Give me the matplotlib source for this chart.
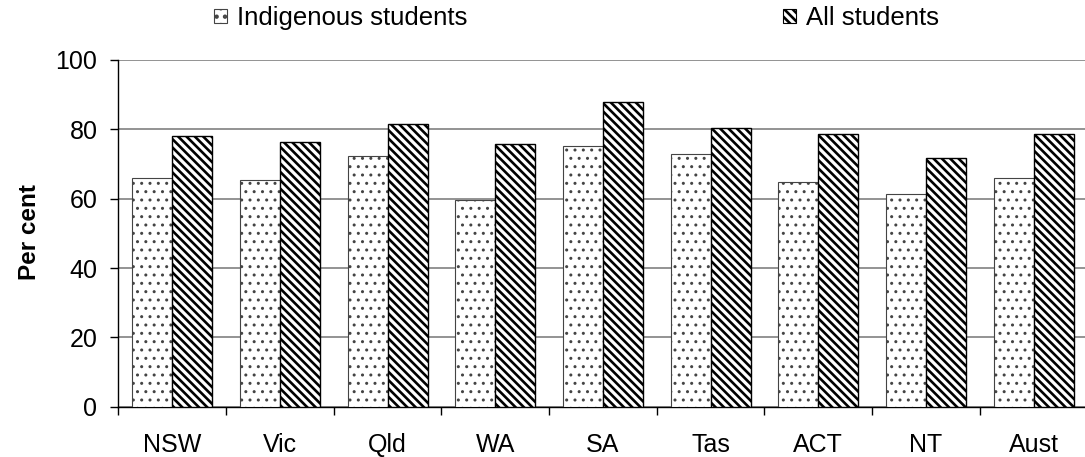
import numpy as np
import matplotlib
matplotlib.use('Agg')
import matplotlib.pyplot as plt
from matplotlib.patches import Patch

# states / territories
states = ['NSW', 'Vic', 'Qld', 'WA', 'SA', 'Tas', 'ACT', 'NT', 'Aust']
# per cent of students
indigenous = [66.0, 65.5, 72.4, 59.6, 75.2, 72.9, 64.7, 61.4, 66.0]
all_students = [78.1, 76.3, 81.6, 75.7, 88.0, 80.3, 78.6, 71.7, 78.6]
yticks = [0, 20, 40, 60, 80, 100]

plt.rcParams['font.family'] = ['Liberation Sans', 'DejaVu Sans']
plt.rcParams['font.size'] = 18
plt.rcParams['hatch.linewidth'] = 1.9

W, H = 1085, 457
fig = plt.figure(figsize=(W / 100, H / 100), dpi=100)
ax = fig.add_axes([118.3 / W, 1 - 406.7 / H, 969.3 / W, 346.7 / H])

x = np.arange(len(states))
bw = 0.371
DOTS = '..'
STRIPES = '\\\\\\\\'

b1 = ax.bar(x - bw / 2, indigenous, bw, color='white', edgecolor='#444444',
            linewidth=0.8, hatch=DOTS, label='Indigenous students', zorder=3)
b2 = ax.bar(x + bw / 2, all_students, bw, color='white', edgecolor='black',
            linewidth=1.0, hatch=STRIPES, label='All students', zorder=3)
for p in b1:
    if hasattr(p, 'set_hatch_linewidth'):
        p.set_hatch_linewidth(1.0)

ax.set_xlim(-0.5, len(states) - 0.5)
ax.set_ylim(0, 100)
ax.set_yticks(yticks)
ax.yaxis.grid(True, color='#808080', linewidth=1.2, zorder=0)
ax.set_axisbelow(True)

# labels at centres, tick marks at category boundaries
ax.set_xticks(x)
ax.set_xticklabels(states)
ax.set_xticks(np.arange(len(states) + 1) - 0.5, minor=True)
ax.tick_params(axis='x', which='major', length=0, pad=19)
ax.tick_params(axis='x', which='minor', length=6, width=1, direction='out')
ax.tick_params(axis='y', length=6, width=1, direction='out', pad=9)

for s in ['top', 'right']:
    ax.spines[s].set_visible(False)
for s in ['left', 'bottom']:
    ax.spines[s].set_linewidth(1.0)

fig.text(30 / W, 1 - 232 / H, 'Per cent', rotation=90, ha='center', va='center',
         fontweight='bold', fontsize=17.5)

handles = [Patch(facecolor='white', edgecolor='#444444', hatch=DOTS, linewidth=0.8),
           Patch(facecolor='white', edgecolor='black', hatch=STRIPES, linewidth=0.8)]
fig.legend(handles, ['Indigenous students', 'All students'], ncol=2,
           loc='center left', bbox_to_anchor=(214 / W, 1 - 18 / H),
           frameon=False, fontsize=18.5, handlelength=0.5, handleheight=0.5,
           handletextpad=0.38, columnspacing=12.3, borderpad=0, borderaxespad=0)

fig.savefig('out.png', dpi=100)
